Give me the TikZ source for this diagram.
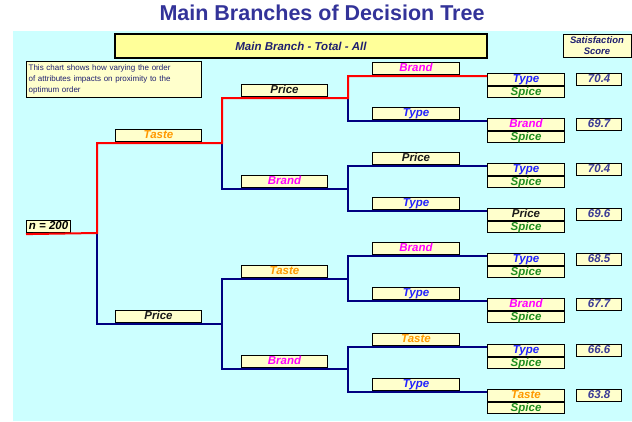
\documentclass[tikz,border=0pt]{standalone}
\usepackage{fontspec}
\setmainfont{Liberation Sans}
\usepackage{xcolor}
\usepackage{tikz}
\usetikzlibrary{calc, positioning}

\definecolor{bgcyan}{HTML}{CCFFFF}
\definecolor{boxyellow}{HTML}{FFFFCC}
\definecolor{headyellow}{HTML}{FFFF99}
\definecolor{titleblue}{HTML}{333399}
\definecolor{headnavy}{HTML}{1F1F70}
\definecolor{navyline}{HTML}{000080}
\definecolor{tasteorange}{HTML}{FF9900}
\definecolor{brandpink}{HTML}{FF00FF}
\definecolor{typeblue}{HTML}{2323FF}
\definecolor{spicegreen}{HTML}{1E8C1E}
\definecolor{pricegray}{HTML}{1A1A1A}
\definecolor{scoreblue}{HTML}{3C3C96}

\begin{document}
\begin{tikzpicture}[x=1pt, y=-1pt,
		box/.style = {draw, fill=boxyellow, line width=1.1pt, inner sep=0pt, text height=8.3pt, text depth=2pt, font=\fontsize{11.5}{11.5}\selectfont\bfseries\itshape},
		lbl/.style = {box, anchor=north west, minimum width=86pt, minimum height=12pt},
		lbl3/.style = {lbl, minimum width=87pt, minimum height=11.5pt},
		leaf/.style = {box, minimum width=77pt, minimum height=11.5pt},
		score/.style = {box, minimum width=45pt, minimum height=11.5pt, text=scoreblue},
		hot/.style = {draw=red, line width=2pt},
		cold/.style = {draw=navyline, line width=2pt}]

			\useasboundingbox (0,0) rectangle (632,421);
			\fill[bgcyan] (13,31) rectangle (632,421);

			\begin{scope}
				\node[font=\fontsize{21.5}{21.5}\selectfont\bfseries, text=titleblue] (title) at (322,13) {Main Branches of Decision Tree};
				\node[draw, fill=headyellow, line width=1.8pt, minimum width=372pt, minimum height=24pt, font=\fontsize{11.5}{11.5}\selectfont\bfseries\itshape, text=headnavy] (head) at (301,46) {Main Branch - Total - All};
				\node[draw, fill=boxyellow, line width=1pt, minimum width=68pt, minimum height=23pt, align=center, inner sep=0pt, font=\fontsize{9.5}{11.5}\selectfont\bfseries\itshape, text=headnavy] (satis) at (597,45.5) {Satisfaction\\Score};
				\node[draw, fill=boxyellow, line width=1.3pt, anchor=north west, minimum width=175pt, minimum height=36pt, text width=171pt, inner sep=2pt, align=left, font=\fontsize{8}{11}\selectfont, text=headnavy] (note) at (26,61) {This chart shows how varying the order\\of attributes impacts on proximity to the\\optimum order};
			\end{scope}

			% first and second split
			\node[box, anchor=north west, minimum width=44pt, minimum height=12pt, text=black] (n200) at (26,220) {n = 200};
			\node[lbl, text=tasteorange] (taste) at (115,129) {Taste};
			\node[lbl, text=pricegray] (price) at (115,310) {Price};

			\node[lbl, text=pricegray] (tprice) at (241,84) {Price};
			\node[lbl, text=brandpink] (tbrand) at (241,175) {Brand};
			\node[lbl, text=tasteorange] (ptaste) at (241,265) {Taste};
			\node[lbl, text=brandpink] (pbrand) at (241,355) {Brand};

			% third split
			\node[lbl3, text=brandpink] (tpbrand) at (372,62) {Brand};
			\node[lbl3, text=typeblue] (tptype) at (372,107) {Type};
			\node[lbl3, text=pricegray] (tbprice) at (372,152) {Price};
			\node[lbl3, text=typeblue] (tbtype) at (372,197) {Type};
			\node[lbl3, text=brandpink] (ptbrand) at (372,242) {Brand};
			\node[lbl3, text=typeblue] (pttype) at (372,287) {Type};
			\node[lbl3, text=tasteorange] (pbtaste) at (372,333) {Taste};
			\node[lbl3, text=typeblue] (pbtype) at (372,378) {Type};

			% leaves
			\node[leaf, anchor=north west, text=typeblue] (a1) at (487,73) {Type};
			\node[leaf, below=0pt of a1, text=spicegreen] (s1) {Spice};
			\node[score, right=11pt of a1] (v1) {70.4};

			\node[leaf, anchor=north west, text=brandpink] (a2) at (487,118) {Brand};
			\node[leaf, below=0pt of a2, text=spicegreen] (s2) {Spice};
			\node[score, right=11pt of a2] (v2) {69.7};

			\node[leaf, anchor=north west, text=typeblue] (a3) at (487,163) {Type};
			\node[leaf, below=0pt of a3, text=spicegreen] (s3) {Spice};
			\node[score, right=11pt of a3] (v3) {70.4};

			\node[leaf, anchor=north west, text=pricegray] (a4) at (487,208) {Price};
			\node[leaf, below=0pt of a4, text=spicegreen] (s4) {Spice};
			\node[score, right=11pt of a4] (v4) {69.6};

			\node[leaf, anchor=north west, text=typeblue] (a5) at (487,253) {Type};
			\node[leaf, below=0pt of a5, text=spicegreen] (s5) {Spice};
			\node[score, right=11pt of a5] (v5) {68.5};

			\node[leaf, anchor=north west, text=brandpink] (a6) at (487,298) {Brand};
			\node[leaf, below=0pt of a6, text=spicegreen] (s6) {Spice};
			\node[score, right=11pt of a6] (v6) {67.7};

			\node[leaf, anchor=north west, text=typeblue] (a7) at (487,344) {Type};
			\node[leaf, below=0pt of a7, text=spicegreen] (s7) {Spice};
			\node[score, right=11pt of a7] (v7) {66.6};

			\node[leaf, anchor=north west, text=tasteorange] (a8) at (487,389) {Taste};
			\node[leaf, below=0pt of a8, text=spicegreen] (s8) {Spice};
			\node[score, right=11pt of a8] (v8) {63.8};

			% junctions
			\coordinate (j0) at (97,233);
			\coordinate (jt) at (222,143);
			\coordinate (jp) at (222,324);
			\coordinate (jtp) at (348,98);
			\coordinate (jtb) at (348,189);
			\coordinate (jpt) at (348,279);
			\coordinate (jpb) at (348,369);

			\begin{scope}[cold]
				\draw (j0) |- (jp);
				\draw (jt) |- (jtb);
				\draw (jp) |- (jpt);
				\draw (jp) |- (jpb);
				\draw (jtp) |- ([yshift=-3pt]a2.north west);
				\draw (jtb) |- ([yshift=-3pt]a3.north west);
				\draw (jtb) |- ([yshift=-3pt]a4.north west);
				\draw (jpt) |- ([yshift=-3pt]a5.north west);
				\draw (jpt) |- ([yshift=-3pt]a6.north west);
				\draw (jpb) |- ([yshift=-3pt]a7.north west);
				\draw (jpb) |- ([yshift=-3pt]a8.north west);
			\end{scope}

			\draw[hot] ([yshift=-1pt]n200.south west) -- (j0) |- (jt) |- (jtp) |- ([yshift=-3pt]a1.north west);
		\end{tikzpicture}
\end{document}
